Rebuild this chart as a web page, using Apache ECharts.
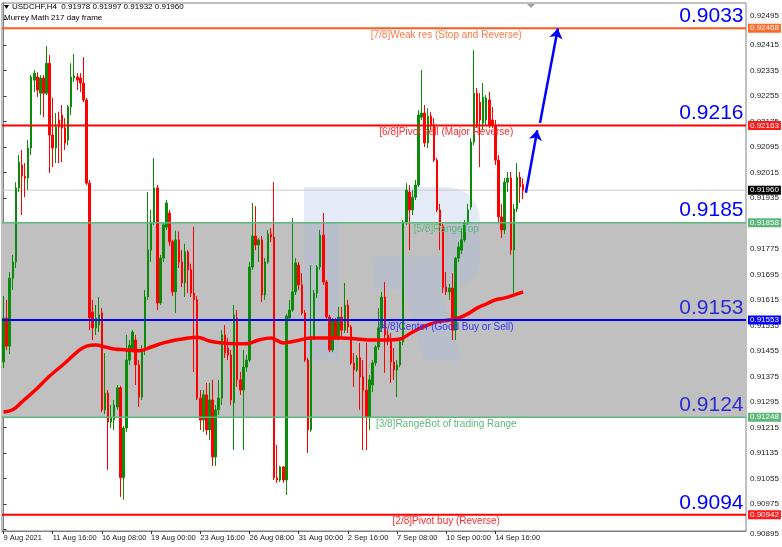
<!DOCTYPE html>
<html><head><meta charset="utf-8">
<script src="https://cdn.jsdelivr.net/npm/echarts@6/dist/echarts.min.js"></script>
<style>html,body{margin:0;padding:0;background:#fff}#c{width:782px;height:547px}</style>
</head><body><div id="c"></div>
<script>
// ---- data ----
const candles = [ // [open, close, low, high]
[0.91421,0.91559,0.91402,0.91628],[0.91559,0.91471,0.91459,0.91616],[0.91471,0.91684,0.91446,0.91703],[0.91684,0.91735,0.91647,0.91757],
[0.91735,0.91967,0.91716,0.91985],[0.91967,0.92048,0.91954,0.92070],[0.92039,0.92004,0.91882,0.92086],[0.92004,0.91998,0.91938,0.92045],
[0.91998,0.92092,0.91960,0.92117],[0.92092,0.92315,0.92070,0.92321],[0.92305,0.92327,0.92268,0.92337],[0.92315,0.92274,0.92252,0.92330],
[0.92264,0.92312,0.92196,0.92321],[0.92312,0.92264,0.92189,0.92321],[0.92264,0.92358,0.92258,0.92412],[0.92358,0.92133,0.92014,0.92384],
[0.92133,0.92092,0.92032,0.92249],[0.92092,0.92158,0.92045,0.92202],[0.92180,0.92158,0.92045,0.92205],[0.92196,0.92155,0.92048,0.92227],
[0.92155,0.92108,0.92086,0.92186],[0.92117,0.92221,0.92101,0.92227],[0.92221,0.92315,0.92196,0.92358],[0.92312,0.92318,0.92299,0.92387],
[0.92315,0.92305,0.92274,0.92327],[0.92312,0.92296,0.92268,0.92327],[0.92296,0.92243,0.92236,0.92377],[0.92243,0.91982,0.91976,0.92249],
[0.91982,0.91559,0.91521,0.91992],[0.91578,0.91528,0.91490,0.91616],[0.91528,0.91559,0.91506,0.91600],[0.91537,0.91569,0.91515,0.91625],
[0.91575,0.91271,0.91264,0.91590],[0.91271,0.91324,0.91258,0.91449],[0.91324,0.91233,0.91083,0.91333],[0.91233,0.91246,0.91214,0.91286],
[0.91239,0.91286,0.91208,0.91302],[0.91280,0.91340,0.91271,0.91349],[0.91340,0.91058,0.90998,0.91346],[0.91058,0.91214,0.90989,0.91220],
[0.91214,0.91427,0.91202,0.91506],[0.91427,0.91474,0.91412,0.91490],[0.91459,0.91515,0.91452,0.91521],[0.91490,0.91412,0.91349,0.91506],
[0.91412,0.91311,0.91280,0.91427],[0.91311,0.91459,0.91302,0.91474],[0.91459,0.91625,0.91443,0.91647],[0.91625,0.91772,0.91616,0.91954],
[0.91772,0.91860,0.91735,0.91898],[0.91860,0.91967,0.91851,0.92061],[0.91967,0.91606,0.91584,0.91976],[0.91606,0.91747,0.91600,0.91757],
[0.91747,0.91851,0.91735,0.91860],[0.91844,0.91920,0.91835,0.91929],[0.91888,0.91798,0.91785,0.91898],[0.91798,0.91641,0.91628,0.91804],
[0.91641,0.91804,0.91575,0.91833],[0.91804,0.91735,0.91716,0.91830],[0.91735,0.91669,0.91656,0.91772],[0.91669,0.91767,0.91625,0.91792],
[0.91767,0.91710,0.91637,0.91772],[0.91710,0.91637,0.91625,0.91729],[0.91637,0.91616,0.91390,0.91845],[0.91616,0.91308,0.91302,0.91628],
[0.91308,0.91239,0.91208,0.91333],[0.91239,0.91318,0.91202,0.91333],[0.91318,0.91208,0.91192,0.91355],[0.91208,0.91302,0.91177,0.91355],
[0.91302,0.91123,0.91095,0.91365],[0.91123,0.91271,0.91095,0.91286],[0.91271,0.91308,0.91255,0.91365],[0.91308,0.91506,0.91286,0.91521],
[0.91506,0.91449,0.91434,0.91537],[0.91465,0.91443,0.91427,0.91496],[0.91443,0.91302,0.91286,0.91459],[0.91293,0.91569,0.91145,0.91600],
[0.91559,0.91365,0.91343,0.91584],[0.91365,0.91333,0.91318,0.91390],[0.91333,0.91405,0.91145,0.91459],[0.91405,0.91427,0.91390,0.91443],
[0.91427,0.91719,0.91421,0.91735],[0.91719,0.91816,0.91710,0.91920],[0.91816,0.91788,0.91772,0.91910],[0.91788,0.91804,0.91735,0.91810],
[0.91804,0.91631,0.91609,0.91816],[0.91631,0.91735,0.91616,0.91747],[0.91735,0.91822,0.91729,0.91835],[0.91822,0.91813,0.91797,0.91841],
[0.91813,0.91058,0.91051,0.91985],[0.91058,0.91051,0.91042,0.91161],[0.91051,0.91092,0.91045,0.91095],[0.91092,0.91051,0.91042,0.91095],
[0.91051,0.91565,0.91004,0.91572],[0.91559,0.91584,0.91553,0.91616],[0.91584,0.91641,0.91578,0.91873],[0.91641,0.91732,0.91631,0.91747],
[0.91725,0.91663,0.91647,0.91735],[0.91663,0.91575,0.91569,0.91700],[0.91575,0.91427,0.91421,0.91584],[0.91427,0.91208,0.91136,0.91434],
[0.91208,0.91500,0.91202,0.91725],[0.91500,0.91637,0.91490,0.91647],[0.91637,0.91719,0.91622,0.91725],[0.91719,0.91819,0.91710,0.91835],
[0.91819,0.91672,0.91663,0.91888],[0.91672,0.91562,0.91553,0.91678],[0.91562,0.91459,0.91452,0.91569],[0.91459,0.91553,0.91452,0.91559],
[0.91553,0.91500,0.91490,0.91559],[0.91500,0.91562,0.91490,0.91594],[0.91562,0.91521,0.91500,0.91594],[0.91521,0.91600,0.91512,0.91669],
[0.91600,0.91531,0.91512,0.91616],[0.91531,0.91418,0.91412,0.91537],[0.91418,0.91396,0.91343,0.91449],[0.91396,0.91434,0.91390,0.91443],
[0.91434,0.91374,0.91271,0.91481],[0.91374,0.91333,0.91145,0.91427],[0.91333,0.91249,0.91145,0.91481],[0.91249,0.91365,0.91208,0.91380],
[0.91349,0.91418,0.91327,0.91427],[0.91418,0.91468,0.91409,0.91474],[0.91468,0.91528,0.91459,0.91590],[0.91528,0.91625,0.91515,0.91641],
[0.91625,0.91506,0.91387,0.91672],[0.91506,0.91490,0.91474,0.91521],[0.91490,0.91421,0.91355,0.91512],[0.91421,0.91396,0.91365,0.91465],
[0.91396,0.91412,0.91311,0.91427],[0.91412,0.91484,0.91405,0.91496],[0.91484,0.91860,0.91474,0.91866],[0.91860,0.91960,0.91851,0.91982],
[0.91954,0.91898,0.91772,0.91976],[0.91898,0.91938,0.91882,0.91960],[0.91938,0.91976,0.91929,0.91992],[0.91976,0.92196,0.91970,0.92211],
[0.92189,0.92202,0.92180,0.92337],[0.92202,0.92108,0.92095,0.92227],[0.92108,0.92192,0.92092,0.92217],[0.92192,0.92164,0.92148,0.92205],
[0.92164,0.92054,0.92048,0.92186],[0.92054,0.91898,0.91891,0.92061],[0.91898,0.91848,0.91772,0.91917],[0.91848,0.91656,0.91637,0.91854],
[0.91656,0.91641,0.91631,0.91703],[0.91641,0.91653,0.91616,0.91666],[0.91653,0.91521,0.91490,0.91700],[0.91521,0.91747,0.91490,0.91750],
[0.91747,0.91782,0.91735,0.91798],[0.91772,0.91804,0.91760,0.91844],[0.91804,0.91857,0.91797,0.91866],[0.91857,0.91898,0.91851,0.91917],
[0.91907,0.92111,0.91898,0.92123],[0.92111,0.92264,0.92101,0.92399],[0.92264,0.92164,0.92155,0.92280],[0.92236,0.92180,0.92032,0.92264],
[0.92170,0.92252,0.92148,0.92296],[0.92180,0.92249,0.92164,0.92258],[0.92243,0.92164,0.92155,0.92268],[0.92180,0.92164,0.92155,0.92221],
[0.92164,0.92054,0.92039,0.92180],[0.92054,0.91876,0.91860,0.92070],[0.91876,0.91835,0.91810,0.91917],[0.91835,0.91985,0.91822,0.91998],
[0.91985,0.91998,0.91954,0.92017],[0.91998,0.91772,0.91757,0.92017],[0.91772,0.91901,0.91637,0.91917],[0.91901,0.92001,0.91891,0.92045],
[0.92001,0.91970,0.91920,0.92017],[0.91978,0.91960,0.91932,0.91997]
];
const maPoints = [ // [bar index, moving average]
[0,0.91264],[3,0.91271],[6,0.91296],[10,0.91330],[15,0.91377],[20,0.91418],[24,0.91453],[27,0.91471],[30,0.91474],[33,0.91468],
[36,0.91462],[40,0.91459],[44,0.91456],[48,0.91468],[52,0.91481],[56,0.91490],[60,0.91496],[63,0.91499],[67,0.91487],[71,0.91481],
[75,0.91478],[79,0.91478],[83,0.91490],[87,0.91496],[91,0.91481],[95,0.91487],[100,0.91496],[105,0.91496],[110,0.91496],[115,0.91493],
[120,0.91490],[125,0.91490],[129,0.91493],[132,0.91509],[135,0.91525],[138,0.91537],[141,0.91547],[145,0.91553],[148,0.91559],[151,0.91572],
[154,0.91590],[157,0.91603],[160,0.91616],[163,0.91622],[166,0.91631],[169,0.91641]
];
const levelValues = [0.92468, 0.92163, 0.91858, 0.91553, 0.91248, 0.90942];
const levelNames = ['[7/8]Weak res (Stop and Reverse)','[6/8]Pivot sell (Major Reverse)','[5/8]RangeTop','[4/8]Center (Good Buy or Sell)','[3/8]RangeBot of trading Range','[2/8]Pivot buy (Reverse)'];
const levelBigLabels = ['0.9033','0.9216','0.9185','0.9153','0.9124','0.9094'];
const lastPrice = 0.91960;
const arrowSegments = [[[169.9,0.91952],[173.6,0.92148]],[[174.5,0.92171],[180.3,0.92467]]];
const yTickValues = [0.90895,0.90975,0.91055,0.91135,0.91215,0.91295,0.91375,0.91455,0.91535,0.91615,0.91695,0.91775,0.91855,0.91935,0.92015,0.92095,0.92175,0.92255,0.92335,0.92415,0.92495];
const xTickLabels = ['9 Aug 2021','11 Aug 16:00','16 Aug 08:00','19 Aug 00:00','23 Aug 16:00','26 Aug 08:00','31 Aug 00:00','2 Sep 16:00','7 Sep 08:00','10 Sep 00:00','14 Sep 16:00'];
const symbolName = 'USDCHF,H4';
const indicatorName = 'Murrey Math 217 day frame';

// ---- categories: H4 bars Mon-Fri from 9 Aug 2021 (incl. empty future bars) ----
const N = 242;
const categories = [];
(function(){ let t = Date.UTC(2021,7,9,0,0); while (categories.length < N) { const d = new Date(t); const wd = d.getUTCDay(); if (wd >= 1 && wd <= 5) categories.push(d.toISOString().slice(0,16).replace('T',' ')); t += 4*3600*1000; } })();
const xLeft = -0.5, xRight = N - 0.5;

// ---- styles ----
const FONT = '"Liberation Sans", Arial, sans-serif';
const lineColors = ['#ff5a1e','#ff0000','#5cb87a','#0000ff','#5cb87a','#ff0000'];
const tagColors  = ['#ff6a2a','#ff1a1a','#5cb87a','#0000ff','#5cb87a','#ff1a1a'];
const textColors = ['#ff7a45','#ff2a2a','#5cb87a','#3333ff','#5cb87a','#ff2a2a'];
const lineWidths = [2,2,1.5,2,1.5,2];
const bigColors  = ['#0000ff','#0000ff','#0000ff','#2b2bd6','#2b2bd6','#0000ff'];

function hLine(value, color, width, tagBg, z) {
  return { type: 'line', xAxisIndex: 1, yAxisIndex: 0, data: [[xLeft, value], [xRight, value]], showSymbol: false, symbol: 'none', silent: true, z: z,
    lineStyle: { color: color, width: width, type: 'solid' }, emphasis: { disabled: true },
    endLabel: { show: true, distance: 2, formatter: value.toFixed(5), backgroundColor: tagBg, color: '#fff', padding: [1,2,0,2], fontSize: 8, fontFamily: FONT } };
}

const levelSeries = levelValues.map((v,k) => {
  const s = hLine(v, lineColors[k], lineWidths[k], tagColors[k], 4);
  s.markPoint = { silent: true, symbol: 'circle', symbolSize: 0, animation: false,
    data: [{ coord: [xRight - 0.8, v], itemStyle: { color: 'transparent' },
      label: { show: true, position: 'left', distance: 0, offset: [0, -12], formatter: levelBigLabels[k], color: bigColors[k], fontSize: 21, fontFamily: FONT } }] };
  return s;
});

const last = candles[candles.length-1];
const titleText = symbolName + '  ' + [last[0], last[3], last[2], last[1]].map(v => v.toFixed(5)).join(' ');

const logoPoints = [[304,187],[447,187],[458,189],[468,194],[475,202],[479,211],[480,220],[480,257],[479,266],[475,275],[468,283],[458,288],[447,290],[440,290],[462,361],[424,361],[404,290],[373,290],[373,257],[445,257],[445,222],[339,222],[339,361],[304,361]];

const chart = echarts.init(document.getElementById('c'), null, { renderer: 'canvas' });
chart.setOption({
  animation: false,
  backgroundColor: '#ffffff',
  grid: { left: 2, right: 36, top: 3, bottom: 16, show: true, borderColor: '#808080', borderWidth: 1, backgroundColor: 'transparent', outerBoundsMode: 'none', containLabel: false },
  xAxis: [
    { type: 'category', data: categories, boundaryGap: true,
      axisLine: { show: true, lineStyle: { color: '#808080' } },
      axisTick: { show: true, alignWithLabel: true, length: 3, interval: (i) => i % 16 === 0 && i / 16 < xTickLabels.length, lineStyle: { color: '#333' } },
      axisLabel: { show: true, interval: (i) => i % 16 === 0 && i / 16 < xTickLabels.length, formatter: (v, i) => xTickLabels[i / 16] || '', align: 'left', margin: 3, fontSize: 7.5, color: '#222', fontFamily: FONT },
      splitLine: { show: false } },
    { type: 'value', min: xLeft, max: xRight, show: false, splitLine: { show: false } }
  ],
  yAxis: { type: 'value', position: 'right', min: 0.90891, max: 0.92547, scale: true,
    splitLine: { show: false },
    axisLine: { show: true, lineStyle: { color: '#808080' } },
    axisTick: { show: true, customValues: yTickValues, length: 3, lineStyle: { color: '#333' } },
    axisLabel: { show: true, customValues: yTickValues, formatter: (v) => Number(v).toFixed(5), fontSize: 8, color: '#222', margin: 4, fontFamily: FONT,
      verticalAlignMinLabel: 'top', verticalAlignMaxLabel: 'bottom' } },
  series: [
    { type: 'candlestick', name: 'USDCHF', xAxisIndex: 0, yAxisIndex: 0, data: candles, barWidth: 2, z: 2,
      itemStyle: { color: '#0a8c0a', color0: '#ff0000', borderColor: '#0a8c0a', borderColor0: '#ff0000', borderWidth: 1 },
      markArea: { silent: true, itemStyle: { color: '#c0c0c0' }, data: [[{ yAxis: levelValues[2] }, { yAxis: levelValues[4] }]] },
      markPoint: { silent: true, symbol: 'circle', symbolSize: 0, animation: false,
        data: levelValues.map((v,k) => ({ coord: [144, v], itemStyle: { color: 'transparent' },
          label: { show: true, position: 'bottom', distance: 2, formatter: levelNames[k], color: textColors[k], fontSize: 10, fontFamily: FONT } })) }
    },
    hLine(lastPrice, '#c8c8c8', 1, '#000000', 1.8),
    ...levelSeries,
    { type: 'line', name: 'MA', xAxisIndex: 1, yAxisIndex: 0, data: maPoints, smooth: 0.4, showSymbol: false, z: 3,
      lineStyle: { color: '#ff0000', width: 3.5 },
      markLine: { silent: true, symbol: ['none','arrow'], symbolSize: 10, animation: false,
        lineStyle: { color: '#0000ff', width: 2.5, type: 'solid' }, label: { show: false },
        data: arrowSegments.map(s => [{ coord: s[0] }, { coord: s[1] }]) }
    }
  ],
  graphic: [
    { type: 'polygon', z: 1.5, silent: true, shape: { points: logoPoints }, style: { fill: 'rgba(165,188,228,0.30)' } },
    { type: 'polygon', z: 10, silent: true, shape: { points: [[4,5],[9,5],[6.5,9]] }, style: { fill: '#000' } },
    { type: 'text', z: 10, silent: true, x: 12, y: 3, style: { text: titleText, fill: '#000', font: '8px ' + FONT } },
    { type: 'text', z: 10, silent: true, x: 4, y: 14, style: { text: indicatorName, fill: '#000', font: '8px ' + FONT } },
    { type: 'polygon', z: 10, silent: true, shape: { points: [[527,4],[535,4],[531,8]] }, style: { fill: '#a0a0a0' } }
  ]
});
</script></body></html>
